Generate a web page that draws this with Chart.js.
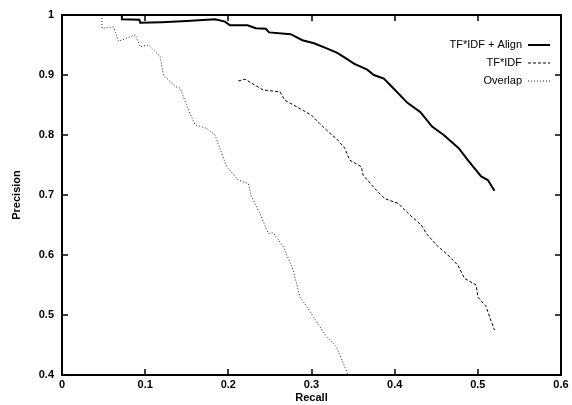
<!DOCTYPE html>
<html>
<head>
<meta charset="utf-8">
<script src="https://cdn.jsdelivr.net/npm/chart.js@4/dist/chart.umd.min.js"></script>
<style>
html,body{margin:0;padding:0;background:#fff;}
#wrap{width:572px;height:405px;position:relative;}
</style>
</head>
<body>
<div id="wrap"><canvas id="c"></canvas></div>
<script>
const seriesLabels = ["TF*IDF + Align", "TF*IDF", "Overlap"];

const alignRecall = [0.072,0.072,0.093,0.094,0.12,0.15,0.184,0.196,0.202,0.223,0.233,0.245,0.249,0.275,0.289,0.303,0.319,0.331,0.341,0.351,0.367,0.375,0.387,0.399,0.415,0.431,0.445,0.459,0.477,0.488,0.504,0.512,0.520];
const alignPrecision = [1.0,0.993,0.992,0.987,0.988,0.990,0.993,0.989,0.983,0.983,0.978,0.977,0.971,0.968,0.958,0.953,0.944,0.937,0.928,0.919,0.909,0.900,0.894,0.877,0.854,0.838,0.814,0.800,0.778,0.758,0.731,0.725,0.707];

const tfidfRecall = [0.212,0.220,0.242,0.262,0.268,0.286,0.300,0.310,0.322,0.330,0.340,0.346,0.360,0.362,0.378,0.388,0.404,0.418,0.432,0.438,0.450,0.464,0.476,0.484,0.498,0.500,0.510,0.514,0.520];
const tfidfPrecision = [0.890,0.893,0.875,0.872,0.858,0.844,0.833,0.819,0.803,0.794,0.778,0.758,0.747,0.733,0.708,0.694,0.686,0.667,0.650,0.636,0.617,0.600,0.583,0.561,0.550,0.530,0.514,0.497,0.475];

const overlapRecall = [0.048,0.048,0.062,0.068,0.088,0.094,0.104,0.118,0.122,0.136,0.142,0.152,0.160,0.174,0.184,0.198,0.212,0.224,0.228,0.238,0.248,0.254,0.266,0.278,0.286,0.296,0.306,0.318,0.330,0.344];
const overlapPrecision = [1.0,0.978,0.980,0.956,0.967,0.947,0.950,0.931,0.900,0.881,0.878,0.842,0.817,0.811,0.800,0.747,0.725,0.719,0.697,0.669,0.636,0.637,0.614,0.575,0.530,0.511,0.489,0.464,0.447,0.400];

const xTickValues = [0, 0.1, 0.2, 0.3, 0.4, 0.5, 0.6];
const yTickValues = [0.4, 0.5, 0.6, 0.7, 0.8, 0.9, 1];

function pts(xs, ys){ return xs.map((x,i)=>({x:x, y:ys[i]})); }

const FONT = '"Liberation Sans", Arial, Helvetica, sans-serif';

const framePlugin = {
  id: 'frame',
  afterDatasetsDraw(chart){
    const {ctx, chartArea:a, scales} = chart;
    ctx.save();
    ctx.strokeStyle = '#000';
    ctx.lineWidth = 2;
    ctx.strokeRect(a.left, a.top, a.right - a.left, a.bottom - a.top);
    ctx.lineWidth = 1.5;
    const tl = 6;
    ctx.beginPath();
    scales.x.ticks.forEach(t=>{
      const px = Math.round(scales.x.getPixelForValue(t.value));
      ctx.moveTo(px, a.bottom); ctx.lineTo(px, a.bottom - tl);
      ctx.moveTo(px, a.top); ctx.lineTo(px, a.top + tl);
    });
    scales.y.ticks.forEach(t=>{
      const py = Math.round(scales.y.getPixelForValue(t.value));
      ctx.moveTo(a.left, py); ctx.lineTo(a.left + tl, py);
      ctx.moveTo(a.right, py); ctx.lineTo(a.right - tl, py);
    });
    ctx.stroke();
    // legend
    ctx.font = '11px ' + FONT;
    ctx.fillStyle = '#000';
    ctx.textAlign = 'right';
    ctx.textBaseline = 'middle';
    const textRight = a.right - 39;
    const lineX0 = a.right - 33, lineX1 = a.right - 11;
    chart.data.datasets.forEach((ds, i)=>{
      const y = 45 + i * 18;
      ctx.fillText(ds.label, textRight, y);
      ctx.beginPath();
      ctx.setLineDash(ds.borderDash || []);
      ctx.lineWidth = ds.borderWidth;
      ctx.strokeStyle = ds.borderColor;
      ctx.moveTo(lineX0, y); ctx.lineTo(lineX1, y);
      ctx.stroke();
    });
    ctx.restore();
  }
};

new Chart(document.getElementById('c'), {
  type: 'line',
  data: {
    datasets: [
      {label: seriesLabels[0], data: pts(alignRecall, alignPrecision), borderColor:'#000', borderWidth:2, borderDash:[], pointRadius:0, tension:0, fill:false},
      {label: seriesLabels[1], data: pts(tfidfRecall, tfidfPrecision), borderColor:'#000', borderWidth:1, borderDash:[3,2], pointRadius:0, tension:0, fill:false},
      {label: seriesLabels[2], data: pts(overlapRecall, overlapPrecision), borderColor:'#222', borderWidth:1, borderDash:[1,2], pointRadius:0, tension:0, fill:false}
    ]
  },
  options: {
    responsive: true,
    maintainAspectRatio: false,
    animation: false,
    devicePixelRatio: 1,
    layout: {padding: {left: 0, right: 11, top: 15, bottom: 0}},
    plugins: {legend: {display:false}, tooltip: {enabled:false}},
    scales: {
      x: {
        type: 'linear', min: 0, max: 0.6,
        afterBuildTicks(s){ s.ticks = xTickValues.map(v=>({value:v})); },
        afterFit(s){ s.height = 30; },
        grid: {display:false, drawTicks:false},
        border: {display:false},
        ticks: {
          padding: 3, color:'#000', maxRotation:0,
          font: {family: FONT, size: 11, weight: 'bold'},
          callback: v => String(Number(v.toFixed(1)))
        },
        title: {display:true, text:'Recall', color:'#000', padding:{top:2,bottom:0}, font:{family: FONT, size: 11, weight:'bold'}}
      },
      y: {
        type: 'linear', min: 0.4, max: 1,
        afterBuildTicks(s){ s.ticks = yTickValues.map(v=>({value:v})); },
        afterFit(s){ s.width = 62; },
        grid: {display:false, drawTicks:false},
        border: {display:false},
        ticks: {
          padding: 8, color:'#000',
          font: {family: FONT, size: 11, weight: 'bold'},
          callback: v => String(Number(v.toFixed(1)))
        },
        title: {display:true, text:'Precision', color:'#000', padding:{top:10,bottom:0}, font:{family: FONT, size: 11, weight:'bold'}}
      }
    }
  },
  plugins: [framePlugin]
});
</script>
</body>
</html>
